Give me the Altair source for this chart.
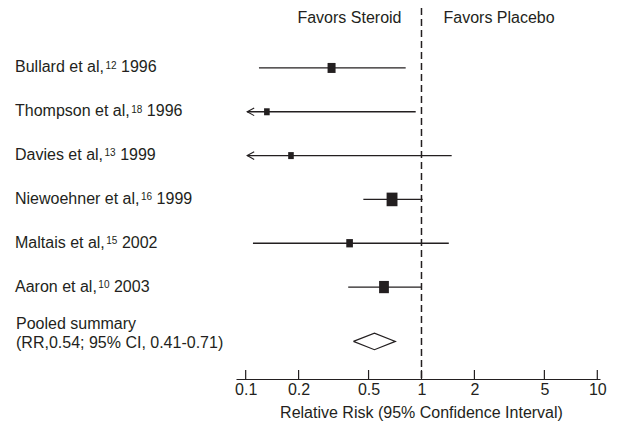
import altair as alt
import pandas as pd

# ---- data ----
study_name = ["Bullard et al,", "Thompson et al,", "Davies et al,",
              "Niewoehner et al,", "Maltais et al,", "Aaron et al,"]
ref_num = ["12", "18", "13", "16", "15", "10"]
year = ["1996", "1996", "1999", "1999", "2002", "2003"]
rr = [0.308, 0.132, 0.181, 0.68, 0.39, 0.612]
ci_lo = [0.119, 0.102, 0.102, 0.467, 0.110, 0.383]
ci_hi = [0.813, 0.927, 1.485, 1.016, 1.43, 1.0]
weight = [100, 49, 49, 185, 69, 150]
truncated = [False, True, True, False, False, False]
row = [1, 2, 3, 4, 5, 6]

pooled_rr = 0.54
pooled_lo = 0.41
pooled_hi = 0.71
pooled_row = 7.24
pooled_label = "Pooled summary\n(RR,0.54; 95% CI, 0.41-0.71)"

tick_values = [0.1, 0.2, 0.5, 1, 2, 5, 10]

FONT = "Liberation Sans"
INK = "#231f20"
W, H = 364, 371
FS = 16
SUP_FS = 10
LABEL_X = -221

# Arial / Liberation Sans advance widths (1/1000 em) used to place superscripts
ADV = {"A": 667, "B": 667, "D": 722, "M": 833, "N": 722, "T": 611,
       "a": 556, "b": 556, "c": 500, "d": 556, "e": 556, "h": 556, "i": 222,
       "l": 222, "m": 833, "n": 556, "o": 556, "p": 556, "r": 333, "s": 500,
       "t": 278, "u": 556, "v": 500, "w": 722, ",": 278, " ": 278}


def text_w(s, size):
    return sum(ADV.get(c, 556) for c in s) / 1000 * size


sup_x = [LABEL_X + text_w(n, FS) + 1.5 for n in study_name]
year_x = [sx + text_w(r, SUP_FS) + 4.5 for sx, r in zip(sup_x, ref_num)]

df = pd.DataFrame({"name": study_name, "ref": ref_num, "year": year,
                   "sx": sup_x, "yx": year_x,
                   "rr": rr, "lo": ci_lo, "hi": ci_hi,
                   "w": weight, "trunc": truncated, "row": row})
half = 0.19
diamond = pd.DataFrame({
    "x": [pooled_lo, pooled_rr, pooled_hi, pooled_rr, pooled_lo],
    "y": [pooled_row, pooled_row - half, pooled_row, pooled_row + half, pooled_row],
    "o": [0, 1, 2, 3, 4],
})
pooled_df = pd.DataFrame({"row": [pooled_row], "label": [pooled_label]})
ticks_df = pd.DataFrame({"t": tick_values})

xscale = alt.Scale(type="log", domain=[0.0881, 10.36], nice=False)
yscale = alt.Scale(domain=[-0.368, 8.098], reverse=True, nice=False, zero=False)

x_axis = alt.Axis(values=tick_values, format="~g", ticks=False, tickSize=0, grid=False,
                  domainColor=INK, domainWidth=1.2, labelFont=FONT, labelFontSize=FS,
                  labelColor=INK, labelPadding=2, title="Relative Risk (95% Confidence Interval)",
                  titleFont=FONT, titleFontSize=FS, titleFontWeight="normal", titleColor=INK,
                  titlePadding=7, titleX=185)


def X(field):
    return alt.X(field, scale=xscale, axis=x_axis)


def Y(field):
    return alt.Y(field, scale=yscale, axis=None)


ci = alt.Chart(df).mark_rule(color=INK, strokeWidth=1.3).encode(
    x=X("lo:Q"), x2="hi:Q", y=Y("row:Q"),
)

squares = alt.Chart(df).mark_point(
    shape="M -0.8 -1 L 0.8 -1 L 0.8 1 L -0.8 1 Z", filled=True, color=INK, opacity=1
).encode(
    x=X("rr:Q"), y=Y("row:Q"),
    size=alt.Size("w:Q", scale=None, legend=None),
)

arrows = alt.Chart(df).transform_filter("datum.trunc").mark_point(
    shape="M 1 -0.55 L 0 0 L 1 0.55", filled=False, color=INK, opacity=1, strokeWidth=1.1
).encode(
    x=X("lo:Q"), y=Y("row:Q"), size=alt.value(196),
)

ref = alt.Chart(pd.DataFrame({"v": [1]})).mark_rule(
    color=INK, strokeWidth=1.5, strokeDash=[7, 4]
).encode(
    x=X("v:Q"), y=alt.value(0), y2=alt.value(H),
)

name_text = alt.Chart(df).mark_text(
    align="left", baseline="alphabetic", font=FONT, fontSize=FS, color=INK, dy=4.5
).encode(x=alt.value(LABEL_X), y=Y("row:Q"), text="name:N")

sup_text = alt.Chart(df).mark_text(
    align="left", baseline="alphabetic", font=FONT, fontSize=SUP_FS, color=INK, dy=0.8
).encode(x=alt.X("sx:Q", scale=None), y=Y("row:Q"), text="ref:N")

year_text = alt.Chart(df).mark_text(
    align="left", baseline="alphabetic", font=FONT, fontSize=FS, color=INK, dy=4.5
).encode(x=alt.X("yx:Q", scale=None), y=Y("row:Q"), text="year:N")

dia = alt.Chart(diamond).mark_line(color=INK, strokeWidth=1.2).encode(
    x=X("x:Q"), y=Y("y:Q"), order="o:Q",
)

pooled_text = alt.Chart(pooled_df).mark_text(
    align="left", baseline="middle", font=FONT, fontSize=FS, color=INK,
    lineBreak="\n", lineHeight=19, dy=-17
).encode(x=alt.value(LABEL_X + 1), y=Y("row:Q"), text="label:N")

hdr = pd.DataFrame({"v": [1]})
head_left = alt.Chart(hdr).mark_text(
    align="right", baseline="middle", font=FONT, fontSize=FS, color=INK, dx=-20
).encode(x=X("v:Q"), y=alt.value(10), text=alt.value("Favors Steroid"))
head_right = alt.Chart(hdr).mark_text(
    align="left", baseline="middle", font=FONT, fontSize=FS, color=INK, dx=22
).encode(x=X("v:Q"), y=alt.value(10), text=alt.value("Favors Placebo"))

tick_marks = alt.Chart(ticks_df).mark_rule(color=INK, strokeWidth=1.2).encode(
    x=X("t:Q"), y=alt.value(H - 9), y2=alt.value(H),
)

chart = alt.layer(
    ci, ref, squares, arrows, dia, name_text, sup_text, year_text,
    pooled_text, head_left, head_right, tick_marks
).properties(
    width=W, height=H,
    autosize=alt.AutoSizeParams(type="none"),
    padding={"left": 228, "top": 0, "right": 9, "bottom": 46},
).configure_view(stroke=None)

chart.save("out.html", embed_options={"renderer": "svg", "actions": False})
